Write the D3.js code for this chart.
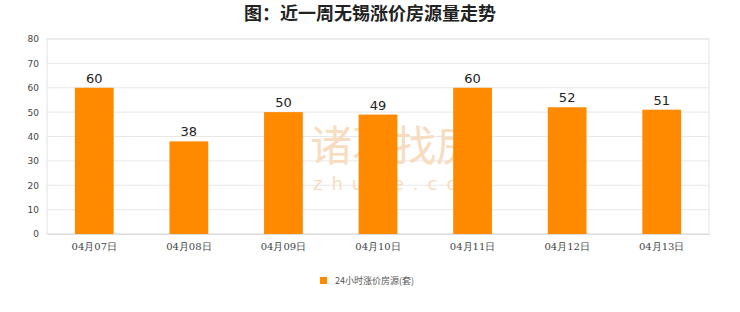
<!DOCTYPE html>
<html>
<head>
<meta charset="utf-8">
<script src="https://cdn.jsdelivr.net/npm/d3@7"></script>
<style>
  body { margin: 0; background: #fff; }
  svg { display: block; }
</style>
</head>
<body>
<script>
var categories = ["04月07日", "04月08日", "04月09日", "04月10日", "04月11日", "04月12日", "04月13日"];
var values = [60, 38, 50, 49, 60, 52, 51];
var yTicks = [0, 10, 20, 30, 40, 50, 60, 70, 80];
var seriesName = "24小时涨价房源(套)";
var title = "图：近一周无锡涨价房源量走势";

var width = 740, height = 312;
var margin = { top: 39, right: 31, bottom: 78, left: 47 };
var innerW = width - margin.left - margin.right;
var innerH = height - margin.top - margin.bottom;
var orange = "#ff8a00";

var svg = d3.select(document.body).append("svg")
  .attr("width", width)
  .attr("height", height);

svg.append("text")
  .attr("x", width / 2)
  .attr("y", 20)
  .attr("text-anchor", "middle")
  .attr("font-family", "'Noto Sans CJK SC', sans-serif")
  .attr("font-weight", "bold")
  .attr("font-size", 18)
  .attr("fill", "#222")
  .text(title);

var g = svg.append("g")
  .attr("transform", "translate(" + margin.left + "," + margin.top + ")");

var x = d3.scaleBand().domain(categories).range([0, innerW]).paddingInner(0.59).paddingOuter(0.295);
var y = d3.scaleLinear().domain([0, 80]).range([innerH, 0]);

// grid
g.selectAll(".grid")
  .data(yTicks)
  .enter().append("line")
  .attr("x1", 0).attr("x2", innerW)
  .attr("y1", function(d) { return y(d); })
  .attr("y2", function(d) { return y(d); })
  .attr("stroke", "#e8e8e8")
  .attr("stroke-width", 1);

g.append("rect")
  .attr("x", 0).attr("y", 0)
  .attr("width", innerW).attr("height", innerH)
  .attr("fill", "none")
  .attr("stroke", "#e3e3e3");

// watermark
var wm = g.append("g").attr("fill", "#f8dcc0");
wm.append("text")
  .attr("x", 310 - margin.left).attr("y", 161 - margin.top)
  .attr("font-family", "'Noto Sans CJK SC', sans-serif")
  .attr("font-size", 42)
  .text("诸葛找房");
wm.append("text")
  .attr("x", 313 - margin.left).attr("y", 190 - margin.top)
  .attr("font-family", "'DejaVu Sans', sans-serif")
  .attr("font-size", 18)
  .attr("letter-spacing", 9)
  .text("zhuge.com");

// y axis
var yAxis = g.append("g")
  .call(d3.axisLeft(y).tickValues(yTicks).tickSize(0).tickPadding(8));
yAxis.select(".domain").remove();
yAxis.selectAll("text")
  .attr("font-family", "'DejaVu Sans', sans-serif")
  .attr("font-size", 9)
  .attr("fill", "#444");

// x axis
var xAxis = g.append("g")
  .attr("transform", "translate(0," + innerH + ")")
  .call(d3.axisBottom(x).tickSize(0).tickPadding(9));
xAxis.select(".domain").attr("stroke", "#ddd");
xAxis.selectAll("text")
  .attr("font-family", "'DejaVu Serif', serif")
  .attr("font-size", 10)
  .attr("fill", "#444");

// bars
g.selectAll(".bar")
  .data(values)
  .enter().append("rect")
  .attr("x", function(d, i) { return x(categories[i]); })
  .attr("y", function(d) { return y(d); })
  .attr("width", x.bandwidth())
  .attr("height", function(d) { return innerH - y(d); })
  .attr("fill", orange);

g.selectAll(".val")
  .data(values)
  .enter().append("text")
  .attr("x", function(d, i) { return x(categories[i]) + x.bandwidth() / 2; })
  .attr("y", function(d) { return y(d) - 5; })
  .attr("text-anchor", "middle")
  .attr("font-family", "'DejaVu Sans', sans-serif")
  .attr("font-size", 13)
  .attr("fill", "#222")
  .text(function(d) { return d; });

// legend
var lg = svg.append("g").attr("transform", "translate(320,277)");
lg.append("rect")
  .attr("width", 7).attr("height", 7)
  .attr("fill", orange);
lg.append("text")
  .attr("x", 15).attr("y", 7)
  .attr("font-family", "'Noto Sans CJK SC', sans-serif")
  .attr("font-size", 9)
  .attr("fill", "#555")
  .text(seriesName);
</script>
</body>
</html>
